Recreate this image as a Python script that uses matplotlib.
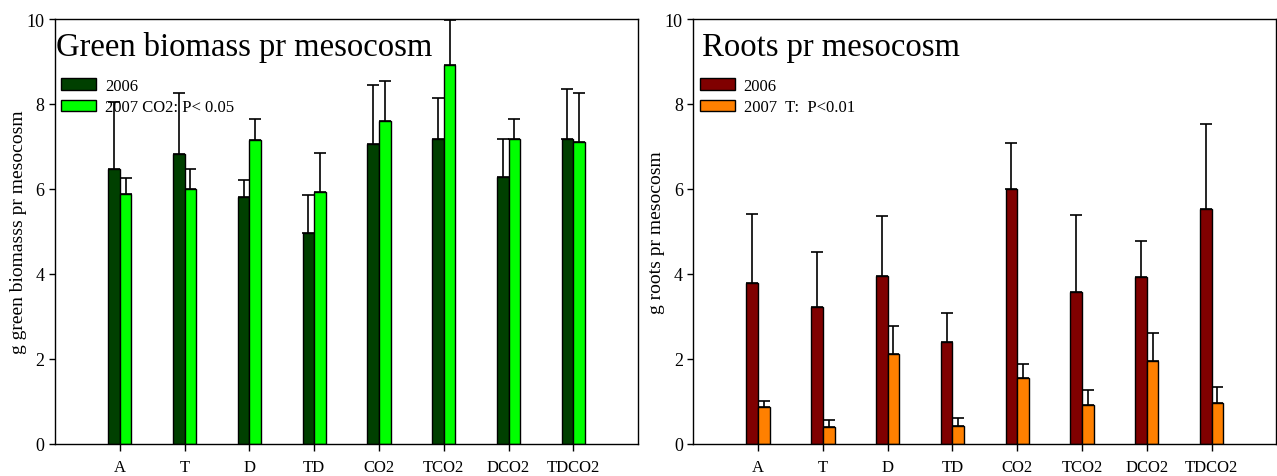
import numpy as np
import matplotlib
matplotlib.use("Agg")
import matplotlib.pyplot as plt

plt.rcParams['font.family'] = ['Liberation Serif', 'DejaVu Serif']

treatments = ["A", "T", "D", "TD", "CO2", "TCO2", "DCO2", "TDCO2"]

# green biomass per mesocosm (g), means and upper SE
green_2006 = [6.47, 6.81, 5.80, 4.96, 7.06, 7.17, 6.29, 7.17]
green_2006_err = [1.58, 1.45, 0.41, 0.89, 1.39, 0.96, 0.89, 1.19]
green_2007 = [5.87, 6.00, 7.14, 5.93, 7.60, 8.91, 7.17, 7.10]
green_2007_err = [0.38, 0.47, 0.50, 0.91, 0.95, 1.07, 0.48, 1.16]

# roots per mesocosm (g)
roots_2006 = [3.79, 3.22, 3.95, 2.39, 5.99, 3.58, 3.92, 5.53]
roots_2006_err = [1.62, 1.29, 1.41, 0.68, 1.10, 1.80, 0.86, 2.00]
roots_2007 = [0.86, 0.39, 2.11, 0.42, 1.54, 0.91, 1.94, 0.95]
roots_2007_err = [0.15, 0.16, 0.66, 0.18, 0.33, 0.35, 0.66, 0.38]

fig = plt.figure(figsize=(12.77, 4.77), dpi=100)
ax1 = fig.add_axes([0.0431, 0.068, 0.4566, 0.890])
ax2 = fig.add_axes([0.5429, 0.068, 0.4566, 0.890])

x = np.arange(1, len(treatments) + 1)
w = 0.18


def panel(ax, m1, e1, m2, e2, c1, c2, title, ylabel, lab1, lab2):
    kw = dict(width=w, edgecolor="black", linewidth=1.0, zorder=2,
              error_kw=dict(ecolor="black", elinewidth=1.2, capsize=4.3,
                            capthick=1.2, zorder=1))
    ax.bar(x - w / 2, m1, color=c1, yerr=[np.zeros(len(m1)), e1], label=lab1, **kw)
    ax.bar(x + w / 2, m2, color=c2, yerr=[np.zeros(len(m2)), e2], label=lab2, **kw)
    ax.set_xlim(0, 9)
    ax.set_ylim(0, 10)
    ax.set_xticks(x)
    ax.set_xticklabels(treatments)
    ax.set_yticks([0, 2, 4, 6, 8, 10])
    ax.tick_params(axis="x", labelsize=12, length=5, width=1.0, direction="out", pad=6)
    ax.tick_params(axis="y", labelsize=13, length=4.5, width=1.0, direction="out", pad=3)
    ax.set_ylabel(ylabel, fontsize=14, labelpad=0)
    for s in ax.spines.values():
        s.set_linewidth(1.0)
    ax.text(0.002, 0.935, title, transform=ax.transAxes, fontsize=23.5,
            ha="left", va="center")
    ax.legend(loc="upper left", bbox_to_anchor=(0.005, 0.87), frameon=False,
              fontsize=12, handlelength=2.1, handleheight=0.7,
              labelspacing=0.35, handletextpad=0.55, borderaxespad=0.0,
              borderpad=0.2)


panel(ax1, green_2006, green_2006_err, green_2007, green_2007_err,
      "#004000", "#00ff00", "Green biomass pr mesocosm",
      "g green biomasss pr mesocosm", "2006", "2007 CO2: P< 0.05")
panel(ax2, roots_2006, roots_2006_err, roots_2007, roots_2007_err,
      "#800000", "#ff8000", " Roots pr mesocosm",
      "g roots pr mesocosm", "2006", "2007  T:  P<0.01")

fig.savefig("out.png", dpi=100)
